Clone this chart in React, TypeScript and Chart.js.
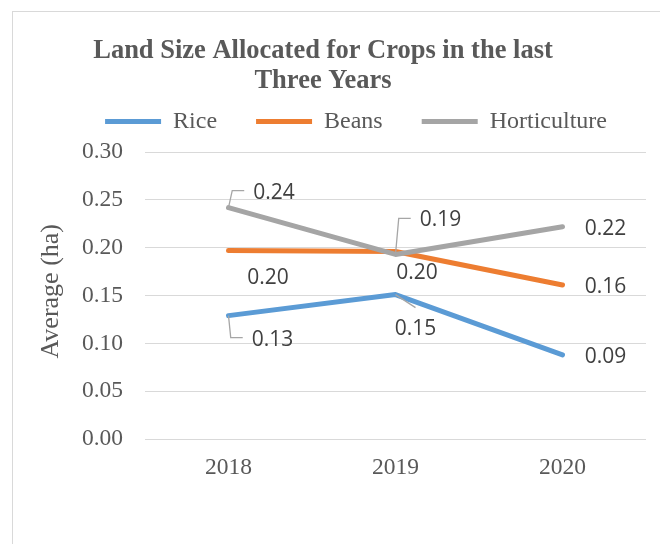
import React, { useEffect, useRef } from "react";
import { Chart, registerables } from "chart.js";

Chart.register(...registerables);

// ---- data ----
const YEARS = ["2018", "2019", "2020"];
const SERIES_NAMES = ["Rice", "Beans", "Horticulture"];
const RICE = [0.129, 0.151, 0.088];
const BEANS = [0.197, 0.196, 0.161];
const HORTICULTURE = [0.242, 0.193, 0.222];
const TITLE_LINES = ["Land Size Allocated for Crops in the last", "Three Years"];
const Y_TITLE = "Average (ha)";
const Y_STEP = 0.05;

// ---- styles ----
const SERIES_COLORS = ["#5b9bd5", "#ed7d31", "#a5a5a5"];
const SERIF = "'Times New Roman', 'Liberation Serif', serif";
const TEXT_GRAY = "#595959";
const GRID_GRAY = "#d9d9d9";

// label placement: offset of label centre from its point, with leader style
type Place = { dx: number; dy: number; leader: null | "elbow" | "line" };
const RICE_PLACES: Place[] = [
  { dx: 44, dy: 24, leader: "elbow" },
  { dx: 20, dy: 34, leader: "line" },
  { dx: 43, dy: 2.5, leader: null },
];
const BEANS_PLACES: Place[] = [
  { dx: 39.5, dy: 27, leader: null },
  { dx: 21.5, dy: 21, leader: null },
  { dx: 43, dy: 2, leader: null },
];
const HORT_PLACES: Place[] = [
  { dx: 45.5, dy: -15, leader: "elbow" },
  { dx: 45, dy: -34, leader: "elbow" },
  { dx: 43, dy: 2, leader: null },
];
const PLACES = [RICE_PLACES, BEANS_PLACES, HORT_PLACES];

const pointLabels = {
  id: "pointLabels",
  afterDatasetsDraw(chart: any) {
    const ctx = chart.ctx as CanvasRenderingContext2D;
    ctx.save();
    ctx.font = "21px 'Open Sans', 'Noto Sans', sans-serif";
    ctx.textAlign = "center";
    ctx.textBaseline = "middle";
    chart.data.datasets.forEach((ds: any, di: number) => {
      const meta = chart.getDatasetMeta(di);
      meta.data.forEach((pt: any, i: number) => {
        const place = PLACES[di][i];
        const text = Number(ds.data[i]).toFixed(2);
        const cx = pt.x + place.dx;
        const cy = pt.y + place.dy;
        const w = ctx.measureText(text).width;
        const left = cx - w / 2;
        ctx.strokeStyle = "#a6a6a6";
        ctx.lineWidth = 1.3;
        if (place.leader === "elbow") {
          ctx.beginPath();
          ctx.moveTo(left - 9, cy - 2);
          ctx.lineTo(left - 21, cy - 2);
          ctx.lineTo(pt.x, pt.y);
          ctx.stroke();
        } else if (place.leader === "line") {
          ctx.beginPath();
          ctx.moveTo(cx, cy - 21);
          ctx.lineTo(pt.x, pt.y);
          ctx.stroke();
        }
        ctx.fillStyle = "#404040";
        ctx.fillText(text, cx, cy);
      });
    });
    ctx.restore();
  },
};

export default function App() {
  const canvasRef = useRef<HTMLCanvasElement | null>(null);

  useEffect(() => {
    if (!canvasRef.current) return;
    const seriesData = [RICE, BEANS, HORTICULTURE];
    const chart = new Chart(canvasRef.current, {
      type: "line",
      data: {
        labels: YEARS,
        datasets: SERIES_NAMES.map((name, i) => ({
          label: name,
          data: seriesData[i],
          borderColor: SERIES_COLORS[i],
          backgroundColor: SERIES_COLORS[i],
          borderWidth: 5,
          borderCapStyle: "round",
          borderJoinStyle: "round",
          pointRadius: 0,
          tension: 0,
          order: SERIES_NAMES.length - i,
        })),
      },
      options: {
        responsive: false,
        animation: false,
        events: [],
        layout: { padding: { left: 0, right: 14, top: 0, bottom: 0 } },
        plugins: {
          tooltip: { enabled: false },
          title: {
            display: true,
            text: TITLE_LINES,
            color: TEXT_GRAY,
            font: { family: SERIF, size: 26.5, weight: "bold", lineHeight: "30px" },
            padding: { top: 36, bottom: -25.5 },
          },
          legend: {
            display: true,
            position: "top",
            align: "end",
            labels: {
              usePointStyle: true,
              pointStyle: "line",
              pointStyleWidth: 56,
              padding: 39,
              color: TEXT_GRAY,
              font: { family: SERIF, size: 24 },
              sort: (a: any, b: any) => a.datasetIndex - b.datasetIndex,
            },
          },
        },
        scales: {
          x: {
            type: "category",
            offset: true,
            grid: { display: false, drawTicks: false },
            border: { display: false },
            ticks: {
              color: TEXT_GRAY,
              font: { family: SERIF, size: 23.5 },
              padding: 15,
            },
            afterFit: (s: any) => {
              s.height = 105;
            },
          },
          y: {
            min: 0,
            max: 0.309,
            bounds: "data",
            grid: { color: GRID_GRAY, lineWidth: 1, drawTicks: false },
            border: { display: false },
            ticks: {
              stepSize: Y_STEP,
              includeBounds: false,
              color: TEXT_GRAY,
              padding: 22,
              font: { family: SERIF, size: 23.5 },
              callback: (v: any) => Number(v).toFixed(2),
            },
            afterFit: (s: any) => {
              s.width = 145;
            },
            title: {
              display: true,
              text: Y_TITLE,
              color: TEXT_GRAY,
              font: { family: SERIF, size: 26 },
              padding: { top: 36, bottom: 0 },
            },
          },
        },
      },
      plugins: [pointLabels],
    } as any);
    return () => chart.destroy();
  }, []);

  return (
    <div
      style={{
        position: "fixed",
        left: 0,
        top: 0,
        width: 660,
        height: 544,
        overflow: "hidden",
        background: "#ffffff",
      }}
    >
      <div
        style={{
          position: "absolute",
          left: 12,
          top: 11,
          width: 720,
          height: 620,
          border: `1px solid ${GRID_GRAY}`,
        }}
      />
      <canvas
        ref={canvasRef}
        width={660}
        height={544}
        style={{ position: "absolute", left: 0, top: 0, display: "block" }}
      />
    </div>
  );
}
